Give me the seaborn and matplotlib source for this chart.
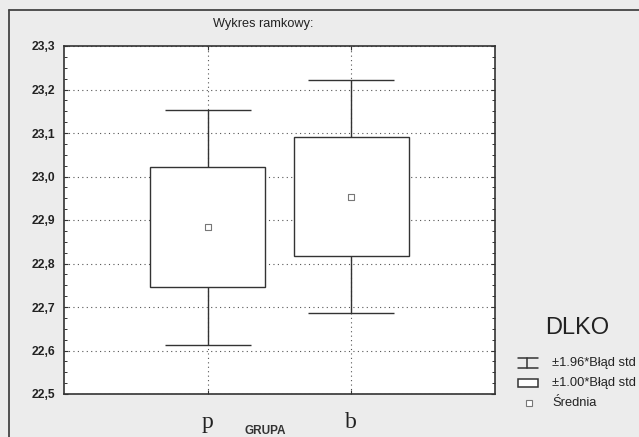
import numpy as np
import pandas as pd
import matplotlib
matplotlib.use("Agg")
import matplotlib.pyplot as plt
import matplotlib.ticker as mticker
from matplotlib.lines import Line2D
from matplotlib.patches import Rectangle
import seaborn as sns

# ─── DATA ─────────────────────────────────────────────────────────────────────
groups = ["p", "b"]
means = [22.883, 22.954]
std_err = [0.138, 0.137]
y_ticks = [22.5, 22.6, 22.7, 22.8, 22.9, 23.0, 23.1, 23.2, 23.3]

df = pd.DataFrame({"GRUPA": groups, "DLKO": means, "SE": std_err})
df["box_lo"] = df["DLKO"] - 1.00 * df["SE"]
df["box_hi"] = df["DLKO"] + 1.00 * df["SE"]
df["err"] = 1.96 * df["SE"]

# ─── STYLE ────────────────────────────────────────────────────────────────────
sns.set_theme(style="white")
plt.rcParams["font.family"] = ["Liberation Sans", "DejaVu Sans"]
BG = "#ececec"
INK = "#333333"

fig = plt.figure(figsize=(6.39, 4.37), dpi=100, facecolor=BG)
ax = fig.add_axes([64 / 639, 43 / 437, 431 / 639, 348 / 437])
ax.set_facecolor("white")

# whiskers (±1.96 SE) behind the boxes
ax.errorbar(df["GRUPA"], df["DLKO"], yerr=df["err"], fmt="none",
            ecolor=INK, elinewidth=1.0, capsize=31, capthick=1.0, zorder=2)
# boxes (±1.00 SE)
ax.bar(df["GRUPA"], df["box_hi"] - df["box_lo"], bottom=df["box_lo"], width=0.8,
       color="white", edgecolor=INK, linewidth=1.0, zorder=3)
# means
sns.scatterplot(data=df, x="GRUPA", y="DLKO", marker="s", s=18, color="white",
                edgecolor="#777777", linewidth=0.8, zorder=4, ax=ax, legend=False)

ax.set_xlim(-1, 2)
ax.set_ylim(22.5, 23.3)
ax.set_yticks(y_ticks)
ax.yaxis.set_minor_locator(mticker.MultipleLocator(0.025))
ax.yaxis.set_major_formatter(mticker.FuncFormatter(lambda v, _: f"{v:.1f}".replace(".", ",")))
ax.grid(True, which="major", linestyle=(0, (1, 3)), color="#555555", linewidth=0.8, zorder=1)
ax.set_axisbelow(True)

for s in ax.spines.values():
    s.set_visible(True)
    s.set_color(INK)
    s.set_linewidth(1.2)

ax.tick_params(axis="y", which="major", direction="in", length=3, width=0.8,
               color=INK, labelsize=8.7, labelcolor="#222222", pad=6, right=True, left=True)
ax.tick_params(axis="y", which="minor", direction="in", length=2, width=0.7,
               color=INK, right=True, left=True)
ax.tick_params(axis="x", direction="in", length=3, width=0.8, color=INK,
               top=True, bottom=True, pad=13)
for lab in ax.get_yticklabels():
    lab.set_fontweight("bold")
for lab in ax.get_xticklabels():
    lab.set_fontfamily("Liberation Serif")
    lab.set_fontsize(17)
    lab.set_color("#222222")

ax.set_xlabel("")
ax.set_ylabel("")
fig.text(265 / 639, 1 - 431 / 437, "GRUPA", ha="center", va="center",
         fontsize=8.5, fontweight="bold", color="#333333")
fig.text(263 / 639, 1 - 24 / 437, "Wykres ramkowy:", ha="center", va="center",
         fontsize=9.2, color="#222222")

# outer frame (top and left edges)
fig.add_artist(Line2D([9 / 639, 1.0], [1 - 10 / 437, 1 - 10 / 437],
                      transform=fig.transFigure, color="#444444", lw=1.3))
fig.add_artist(Line2D([9 / 639, 9 / 639], [0.0, 1 - 10 / 437],
                      transform=fig.transFigure, color="#444444", lw=1.3))

# ─── LEGEND ───────────────────────────────────────────────────────────────────
def px(x, y):
    return x / 639, 1 - y / 437

fig.text(*px(577, 328), "DLKO", ha="center", va="center", fontsize=17, color="#222222")

# whisker symbol
for yy in (358, 368):
    fig.add_artist(Line2D([px(518, 0)[0], px(538, 0)[0]], [px(0, yy)[1]] * 2,
                          transform=fig.transFigure, color=INK, lw=1.1))
fig.add_artist(Line2D([px(527, 0)[0]] * 2, [px(0, 358)[1], px(0, 368)[1]],
                      transform=fig.transFigure, color=INK, lw=1.1))
fig.text(*px(552, 363), "±1.96*Błąd std", ha="left", va="center", fontsize=9.3, color="#222222")

# box symbol
x0, y0 = px(518, 387)
fig.add_artist(Rectangle((x0, y0), 20 / 639, 8 / 437, transform=fig.transFigure,
                         facecolor="white", edgecolor=INK, lw=1.1))
fig.text(*px(552, 383), "±1.00*Błąd std", ha="left", va="center", fontsize=9.3, color="#222222")

# mean symbol
fig.add_artist(Line2D([px(529, 0)[0]], [px(0, 403)[1]], transform=fig.transFigure,
                      marker="s", ms=4, mfc="white", mec="#777777", mew=0.8, lw=0))
fig.text(*px(552, 403), "Średnia", ha="left", va="center", fontsize=9.3, color="#222222")

fig.savefig("out.png", dpi=100, facecolor=BG)
